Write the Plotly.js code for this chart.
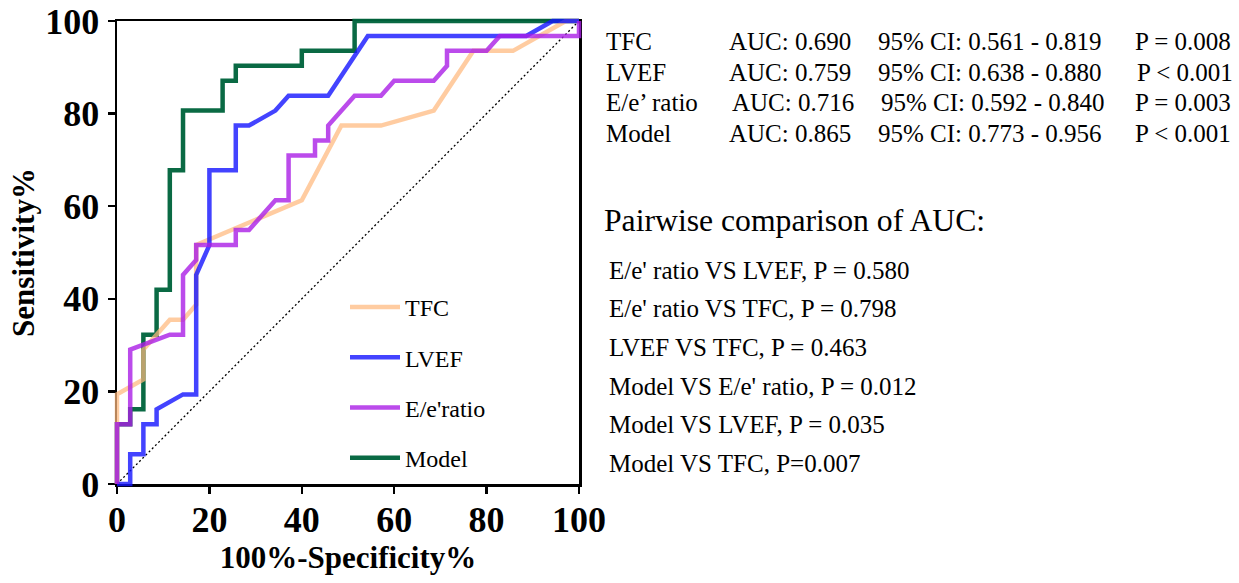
<!DOCTYPE html>
<html>
<head>
<meta charset="utf-8">
<script src="https://cdn.plot.ly/plotly-3.0.1.min.js"></script>
<style>html,body{margin:0;padding:0;background:#fff;}#chart{width:1239px;height:583px;}</style>
</head>
<body>
<div id="chart"></div>
<script>
// ---- data ----
const seriesNames = ["TFC", "LVEF", "E/e'ratio", "Model"];

const modelX = [0, 0, 2.86, 2.86, 5.71, 5.71, 8.57, 8.57, 11.43, 11.43, 14.29, 14.29, 22.86, 22.86, 25.71, 25.71, 40.00, 40.00, 51.43, 51.43, 100];
const modelY = [0, 12.90, 12.90, 16.13, 16.13, 32.26, 32.26, 41.94, 41.94, 67.74, 67.74, 80.65, 80.65, 87.10, 87.10, 90.32, 90.32, 93.55, 93.55, 100, 100];

const tfcX = [0, 0, 5.71, 5.71, 11.43, 14.29, 17.14, 17.14, 40.00, 48.57, 57.14, 68.57, 77.14, 85.71, 97.14, 100];
const tfcY = [0, 19.35, 22.58, 29.03, 35.48, 35.48, 38.71, 51.61, 61.29, 77.42, 77.42, 80.65, 93.55, 93.55, 100, 100];

const lvefX = [0, 2.86, 2.86, 5.71, 5.71, 8.57, 8.57, 14.29, 17.14, 17.14, 20.00, 20.00, 25.71, 25.71, 28.57, 34.29, 37.14, 45.71, 54.29, 88.57, 94.29, 100];
const lvefY = [0, 0, 6.45, 6.45, 12.90, 12.90, 16.13, 19.35, 19.35, 45.16, 51.61, 67.74, 67.74, 77.42, 77.42, 80.65, 83.87, 83.87, 96.77, 96.77, 100, 100];

const eeX = [0, 0, 2.86, 2.86, 11.43, 14.29, 14.29, 17.14, 17.14, 25.71, 25.71, 28.57, 34.29, 37.14, 37.14, 42.86, 42.86, 45.71, 45.71, 51.43, 57.14, 60.00, 68.57, 71.43, 71.43, 80.00, 82.86, 100, 100];
const eeY = [0, 12.90, 12.90, 29.03, 32.26, 32.26, 45.16, 48.39, 51.61, 51.61, 54.84, 54.84, 61.29, 61.29, 70.97, 70.97, 74.19, 74.19, 77.42, 83.87, 83.87, 87.10, 87.10, 90.32, 93.55, 93.55, 96.77, 96.77, 100];

const refX = [0, 100];
const refY = [0, 100];

const tickVals = [0, 20, 40, 60, 80, 100];
const tickText = ["0", "20", "40", "60", "80", "100"];

const rowLabels = ["TFC", "LVEF", "E/e\u2019 ratio", "Model"];
const rowAUC = ["AUC: 0.690", "AUC: 0.759", "AUC: 0.716", "AUC: 0.865"];
const rowCI = ["95% CI: 0.561 - 0.819", "95% CI: 0.638 - 0.880", "95% CI: 0.592 - 0.840", "95% CI: 0.773 - 0.956"];
const rowP = ["P = 0.008", "P < 0.001", "P = 0.003", "P < 0.001"];

const pairTitle = "Pairwise comparison of AUC:";
const pairLines = [
  "E/e' ratio VS LVEF, P = 0.580",
  "E/e' ratio VS TFC, P = 0.798",
  "LVEF VS TFC, P = 0.463",
  "Model VS E/e' ratio, P = 0.012",
  "Model VS LVEF, P = 0.035",
  "Model VS TFC, P=0.007"
];

// ---- layout geometry (pixels) ----
const W = 1239, H = 583;
const pxL = 117, pxR = 579, pxT = 21, pxB = 484;
const pad = 4; // extra room so thick lines at the edges are not clipped
const fx = p => p / W;
const fy = p => 1 - p / H;
const unitX = (pxR - pxL) / 100, unitY = (pxB - pxT) / 100;
const exX = pad / unitX, exY = pad / unitY;

const serif = "Liberation Serif, Times New Roman, serif";

function lineTrace(x, y, name, color, rank) {
  return {
    x: x, y: y, name: name, type: "scatter", mode: "lines",
    xaxis: "x2", yaxis: "y2",
    line: {color: color, width: 4.5, shape: "linear"},
    legendgroup: name, legendrank: rank, hoverinfo: "skip"
  };
}

const traces = [
  {x: refX, y: refY, type: "scatter", mode: "lines", xaxis: "x", yaxis: "y",
   line: {color: "#000", width: 1.3, dash: "2px,2.5px"}, showlegend: false, hoverinfo: "skip"},
  lineTrace(modelX, modelY, seriesNames[3], "rgba(0,100,60,0.96)", 4),
  lineTrace(tfcX, tfcY, seriesNames[0], "rgba(255,185,125,0.72)", 1),
  lineTrace(lvefX, lvefY, seriesNames[1], "rgba(20,20,255,0.8)", 2),
  lineTrace(eeX, eeY, seriesNames[2], "rgba(170,30,230,0.8)", 3)
];

const annotations = [];
const rowYs = [41, 72, 103, 133];
const colX = [604, 727, 876, 1133];
for (let i = 0; i < rowLabels.length; i++) {
  const cols = [rowLabels[i], rowAUC[i], rowCI[i], rowP[i]];
  const shift = (i === 2) ? [0, 3, 3, 0] : (i === 1 ? [0, 0, 0, 2] : [0, 0, 0, 0]);
  cols.forEach((t, j) => annotations.push({
    text: t, xref: "paper", yref: "paper", x: fx(colX[j] + shift[j]), y: fy(rowYs[i]),
    xanchor: "left", yanchor: "middle", showarrow: false,
    font: {family: serif, size: 25, color: "#000"}
  }));
}
annotations.push({
  text: pairTitle, xref: "paper", yref: "paper", x: fx(602), y: fy(220),
  xanchor: "left", yanchor: "middle", showarrow: false,
  font: {family: serif, size: 31.7, color: "#000"}
});
const pairYs = [270, 308, 347, 386, 424, 463];
pairLines.forEach((t, i) => annotations.push({
  text: t, xref: "paper", yref: "paper", x: fx(607), y: fy(pairYs[i]),
  xanchor: "left", yanchor: "middle", showarrow: false,
  font: {family: serif, size: 25, color: "#000"}
}));

const axisCommon = {
  range: [0, 100], tickmode: "array", tickvals: tickVals, ticktext: tickText,
  ticks: "outside", ticklen: 7, tickwidth: 2.5, tickcolor: "#000",
  showline: true, linewidth: 2.5, linecolor: "#000", mirror: true,
  showgrid: false, zeroline: false, fixedrange: true,
  tickfont: {family: serif, size: 36, color: "#000", weight: "bold"}
};

const layout = {
  width: W, height: H,
  margin: {l: 0, r: 0, t: 0, b: 0},
  paper_bgcolor: "#fff", plot_bgcolor: "rgba(0,0,0,0)",
  showlegend: true,
  xaxis: Object.assign({}, axisCommon, {
    domain: [fx(pxL), fx(pxR)], anchor: "y", ticklabelstandoff: -5,
    title: {text: "100%-Specificity%", font: {family: serif, size: 31, color: "#000", weight: "bold"}, standoff: 0}
  }),
  yaxis: Object.assign({}, axisCommon, {
    domain: [fy(pxB), fy(pxT)], anchor: "x", ticklabelstandoff: 1,
    title: {text: "Sensitivity%", font: {family: serif, size: 31, color: "#000", weight: "bold"}, standoff: 2}
  }),
  xaxis2: {domain: [fx(pxL - pad), fx(pxR + pad)], range: [-exX, 100 + exX], visible: false, anchor: "y2", fixedrange: true},
  yaxis2: {domain: [fy(pxB + pad), fy(pxT - pad)], range: [-exY, 100 + exY], visible: false, anchor: "x2", fixedrange: true},
  legend: {
    x: fx(345), y: fy(285), xanchor: "left", yanchor: "top",
    bgcolor: "rgba(0,0,0,0)", borderwidth: 0,
    font: {family: serif, size: 24, color: "#000"},
    traceorder: "grouped", tracegroupgap: 16, itemwidth: 50
  },
  annotations: annotations
};

Plotly.newPlot("chart", traces, layout, {staticPlot: true, displayModeBar: false});
</script>
</body>
</html>
